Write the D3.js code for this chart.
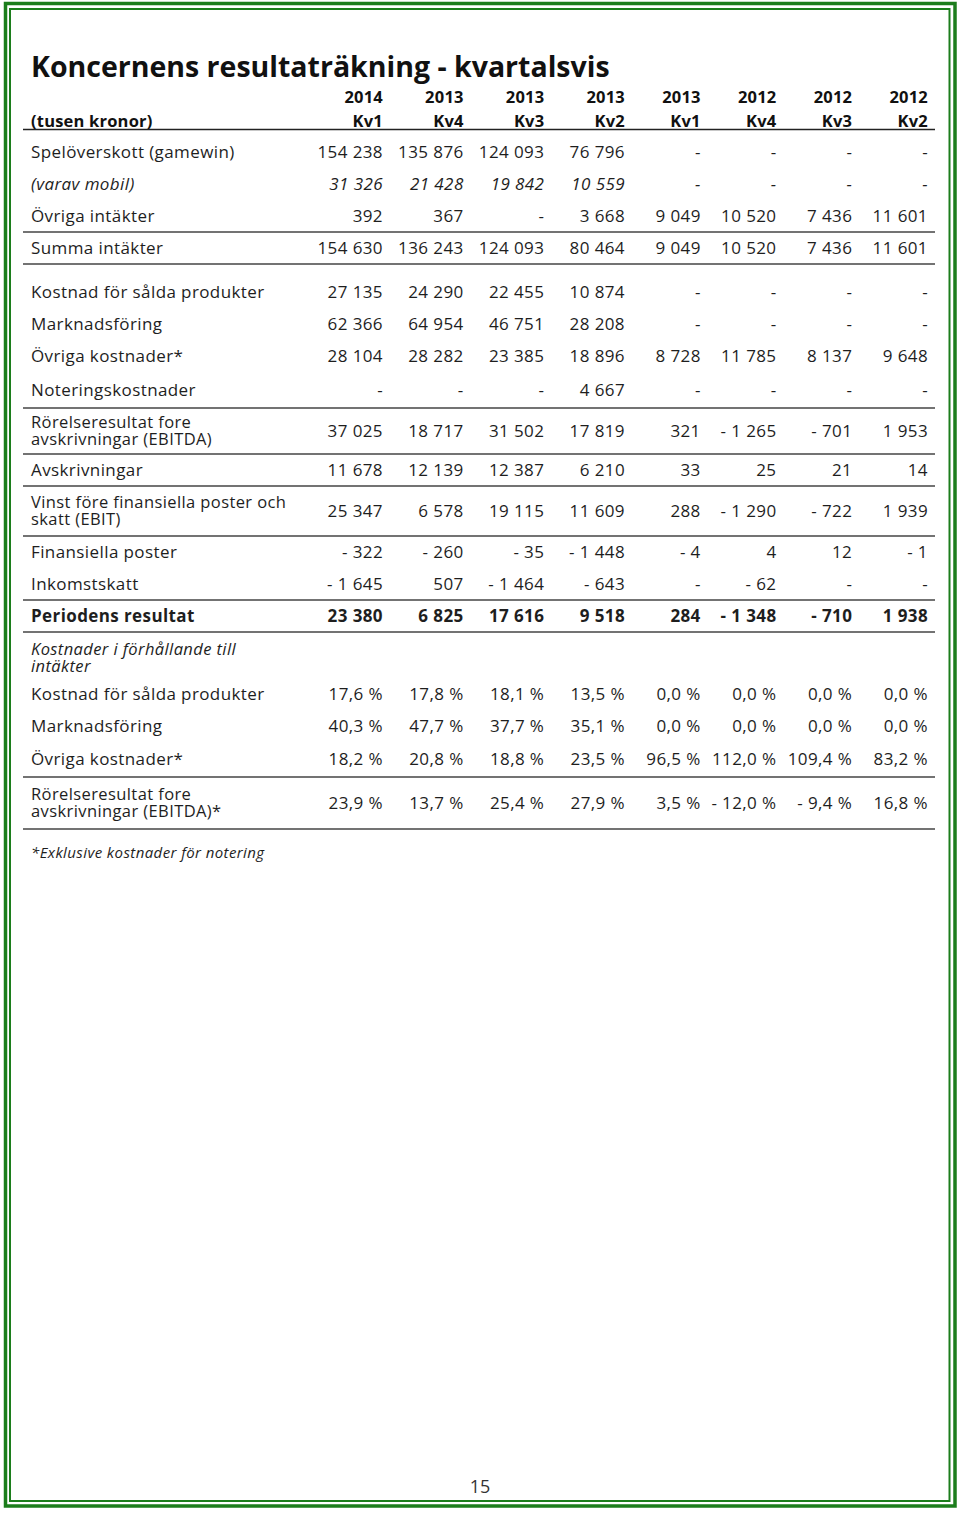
<!DOCTYPE html>
<html>
<head>
<meta charset="utf-8">
<script src="https://cdn.jsdelivr.net/npm/d3@7"></script>
<style>
  body { margin: 0; background: #fff; }
  svg { display: block; font-family: "Open Sans", sans-serif; }
</style>
</head>
<body>
<svg id="tabell" width="960" height="1514"></svg>
<script>
// --- Data ---
const years = ["2014", "2013", "2013", "2013", "2013", "2012", "2012", "2012"];
const quarters = ["Kv1", "Kv4", "Kv3", "Kv2", "Kv1", "Kv4", "Kv3", "Kv2"];

const rowLabels = [
  "Spelöverskott (gamewin)",
  "(varav mobil)",
  "Övriga intäkter",
  "Summa intäkter",
  "Kostnad för sålda produkter",
  "Marknadsföring",
  "Övriga kostnader*",
  "Noteringskostnader",
  "Rörelseresultat fore\navskrivningar (EBITDA)",
  "Avskrivningar",
  "Vinst före finansiella poster och\nskatt (EBIT)",
  "Finansiella poster",
  "Inkomstskatt",
  "Periodens resultat",
  "Kostnader i förhållande till\nintäkter",
  "Kostnad för sålda produkter",
  "Marknadsföring",
  "Övriga kostnader*",
  "Rörelseresultat fore\navskrivningar (EBITDA)*"
];

const spelOverskott  = [154238, 135876, 124093, 76796, null, null, null, null];
const varavMobil     = [31326, 21428, 19842, 10559, null, null, null, null];
const ovrigaIntakter = [392, 367, null, 3668, 9049, 10520, 7436, 11601];
const summaIntakter  = [154630, 136243, 124093, 80464, 9049, 10520, 7436, 11601];
const kostnadSalda   = [27135, 24290, 22455, 10874, null, null, null, null];
const marknad        = [62366, 64954, 46751, 28208, null, null, null, null];
const ovrigaKost     = [28104, 28282, 23385, 18896, 8728, 11785, 8137, 9648];
const notering       = [null, null, null, 4667, null, null, null, null];
const ebitda         = [37025, 18717, 31502, 17819, 321, -1265, -701, 1953];
const avskrivningar  = [11678, 12139, 12387, 6210, 33, 25, 21, 14];
const ebit           = [25347, 6578, 19115, 11609, 288, -1290, -722, 1939];
const finansiella    = [-322, -260, -35, -1448, -4, 4, 12, -1];
const inkomstskatt   = [-1645, 507, -1464, -643, null, -62, null, null];
const periodens      = [23380, 6825, 17616, 9518, 284, -1348, -710, 1938];
const pctKostnad     = [17.6, 17.8, 18.1, 13.5, 0, 0, 0, 0];
const pctMarknad     = [40.3, 47.7, 37.7, 35.1, 0, 0, 0, 0];
const pctOvriga      = [18.2, 20.8, 18.8, 23.5, 96.5, 112.0, 109.4, 83.2];
const pctEbitda      = [23.9, 13.7, 25.4, 27.9, 3.5, -12.0, -9.4, 16.8];

const rowValues = [
  spelOverskott, varavMobil, ovrigaIntakter, summaIntakter,
  kostnadSalda, marknad, ovrigaKost, notering, ebitda, avskrivningar,
  ebit, finansiella, inkomstskatt, periodens, [],
  pctKostnad, pctMarknad, pctOvriga, pctEbitda
];

const footnote = "*Exklusive kostnader för notering";
const pageNumber = "15";

// --- Layout (radhöjder, stilar) ---
const rowHeights = [32, 32, 32, 32, 32, 32, 32, 36, 46, 32, 50, 32, 32, 32, 46, 32, 32, 35, 52];
const gapBefore = {4: 12};
const italicRows = new Set([1, 14]);
const boldRows = new Set([13]);
const percentRows = new Set([15, 16, 17, 18]);
const ruleAfter = new Set([2, 3, 7, 8, 9, 10, 12, 13, 17, 18]);

const svg = d3.select("#tabell");
const W = 960, H = 1514;
const left = 23, right = 935, labelX = 31;
const green = "#1c7d1c";
const lineGap = 17;

// svensk formatering: mellanslag som tusentalsavgränsare, "- " som minus
const sv = d3.formatLocale({decimal: ",", thousands: " ", grouping: [3], currency: ["", " kr"], minus: "- "});
const fmtNum = sv.format(",d");
const fmtPct = sv.format(",.1f");

// --- Ram ---
svg.append("rect").attr("width", W).attr("height", H).attr("fill", "#fff");
svg.append("rect")
  .attr("x", 5.5).attr("y", 3.5).attr("width", 949.5).attr("height", 1502.5)
  .attr("fill", "none").attr("stroke", green).attr("stroke-width", 3.5);
svg.append("rect")
  .attr("x", 10).attr("y", 9).attr("width", 939.5).attr("height", 1492)
  .attr("fill", "none").attr("stroke", green).attr("stroke-width", 2);

// --- Titel ---
svg.append("text")
  .attr("x", labelX).attr("y", 77)
  .style("font-size", "28.5px").style("font-weight", "bold").attr("fill", "#111")
  .text("Koncernens resultaträkning - kvartalsvis");

// --- Kolumner ---
const x = d3.scaleLinear().domain([0, 3, 7]).range([383, 625, 928]);

const header = svg.append("g")
  .style("font-weight", "bold").style("font-size", "16.5px")
  .style("letter-spacing", "0.2px").attr("fill", "#111");
header.selectAll("text.year")
  .data(years)
  .enter().append("text")
    .attr("class", "year")
    .attr("x", (d, i) => x(i)).attr("y", 97)
    .attr("dy", "0.35em").attr("text-anchor", "end")
    .text(d => d);
header.selectAll("text.kv")
  .data(quarters)
  .enter().append("text")
    .attr("class", "kv")
    .attr("x", (d, i) => x(i)).attr("y", 121)
    .attr("dy", "0.35em").attr("text-anchor", "end")
    .text(d => d);
header.append("text")
  .attr("x", labelX).attr("y", 121).attr("dy", "0.35em")
  .text("(tusen kronor)");

svg.append("line")
  .attr("x1", left).attr("x2", right).attr("y1", 129.5).attr("y2", 129.5)
  .attr("stroke", "#222").attr("stroke-width", 1.5);

// --- Rader ---
let yCursor = 136;
const rows = rowLabels.map((label, i) => {
  yCursor += gapBefore[i] || 0;
  const r = {i, label, values: rowValues[i], top: yCursor, h: rowHeights[i]};
  yCursor += rowHeights[i];
  return r;
});

const body = svg.append("g")
  .style("font-size", "17px").style("letter-spacing", "0.4px").attr("fill", "#1e1e1e");

const rowG = body.selectAll("g.row")
  .data(rows)
  .enter().append("g")
    .attr("class", "row")
    .attr("transform", d => `translate(0,${d.top + d.h / 2})`)
    .style("font-style", d => italicRows.has(d.i) ? "italic" : null)
    .style("font-weight", d => boldRows.has(d.i) ? "bold" : null);

rowG.append("text")
  .attr("x", labelX)
  .style("font-size", d => d.label.includes("\n") ? "16.5px" : null)
  .each(function(d) {
    const lines = d.label.split("\n");
    const t = d3.select(this);
    const y0 = d.i === 14 ? 3 : 0;
    lines.forEach((ln, k) => {
      t.append("tspan")
        .attr("x", labelX)
        .attr("y", y0 + (k - (lines.length - 1) / 2) * lineGap)
        .attr("dy", "0.35em")
        .text(ln);
    });
  });

rowG.selectAll("text.val")
  .data(d => d.values.map((v, j) => ({v, j, pct: percentRows.has(d.i)})))
  .enter().append("text")
    .attr("class", "val")
    .attr("x", d => x(d.j))
    .attr("dy", "0.35em")
    .attr("text-anchor", "end")
    .text(d => d.v == null ? "-" : d.pct ? fmtPct(d.v) + " %" : fmtNum(d.v));

svg.selectAll("line.rule")
  .data(rows.filter(r => ruleAfter.has(r.i)))
  .enter().append("line")
    .attr("class", "rule")
    .attr("x1", left).attr("x2", right)
    .attr("y1", d => d.top + d.h).attr("y2", d => d.top + d.h)
    .attr("stroke", "#444").attr("stroke-width", 1.5);

// --- Fotnot & sidnummer ---
svg.append("text")
  .attr("x", labelX).attr("y", 853).attr("dy", "0.35em")
  .style("font-size", "15px").style("font-style", "italic")
  .style("letter-spacing", "0.4px").attr("fill", "#1e1e1e")
  .text(footnote);

svg.append("text")
  .attr("x", 480).attr("y", 1487).attr("dy", "0.35em").attr("text-anchor", "middle")
  .style("font-size", "18px").attr("fill", "#333")
  .text(pageNumber);
</script>
</body>
</html>
